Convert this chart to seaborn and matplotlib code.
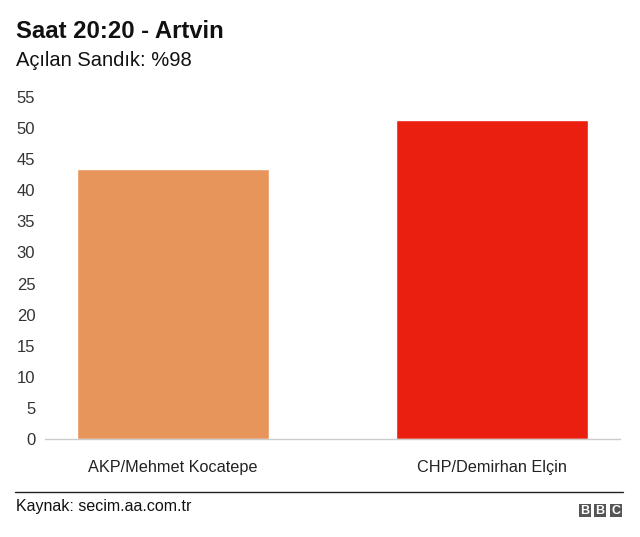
import matplotlib
matplotlib.use("Agg")
import matplotlib.pyplot as plt
import seaborn as sns
import pandas as pd
from matplotlib.lines import Line2D
from matplotlib.patches import Rectangle

categories = ["AKP/Mehmet Kocatepe", "CHP/Demirhan Elçin"]
values = [43.4, 51.3]
colors = ["#E8955C", "#EA1F10"]
yticks = [0, 5, 10, 15, 20, 25, 30, 35, 40, 45, 50, 55]
title = "Saat 20:20 - Artvin"
subtitle = "Açılan Sandık: %98"
source = "Kaynak: secim.aa.com.tr"

sns.set_theme(style="white")
plt.rcParams['font.family'] = ['Liberation Sans', 'DejaVu Sans']

df = pd.DataFrame({"cat": categories, "val": values})

W, H = 640, 537
fig = plt.figure(figsize=(6.4, 5.37), dpi=100)
ax = fig.add_axes([45/W, 1-439/H, 575/W, (439-97)/H])
sns.barplot(data=df, x="cat", y="val", hue="cat", palette=colors, width=0.6,
            legend=False, ax=ax, saturation=1)
ax.set_xlim(-0.4, 1.4)
ax.set_ylim(0, 55)
ax.set_yticks(yticks)
ax.set_yticklabels([str(t) for t in yticks])
ax.set_xlabel("")
ax.set_ylabel("")
for s in ["top", "right", "left"]:
    ax.spines[s].set_visible(False)
ax.spines["bottom"].set_color("#cccccc")
ax.spines["bottom"].set_linewidth(1)
ax.tick_params(axis="y", length=0, pad=7, labelsize=12, labelcolor="#333333")
ax.tick_params(axis="x", length=0, pad=15, labelsize=11.7, labelcolor="#222222")
ax.grid(False)

fig.text(16/W, 1-32/H, title, fontsize=17.2, fontweight="bold", va="center", ha="left", color="#111111")
fig.text(16/W, 1-61/H, subtitle, fontsize=14.5, va="center", ha="left", color="#111111")

fig.add_artist(Line2D([15/W, 623/W], [1-492/H, 1-492/H], color="#222222", lw=1, transform=fig.transFigure))
fig.text(16/W, 1-507/H, source, fontsize=11.5, va="center", ha="left", color="#111111")

for x0, letter in zip([579, 594, 610], "BBC"):
    fig.add_artist(Rectangle((x0/W, 1-517/H), 12/W, 13/H, transform=fig.transFigure,
                             facecolor="#555555", edgecolor="none"))
    fig.text((x0+6)/W, 1-510.5/H, letter, fontsize=9, fontweight="bold", color="white",
             ha="center", va="center")

fig.savefig("out.png", dpi=100)
